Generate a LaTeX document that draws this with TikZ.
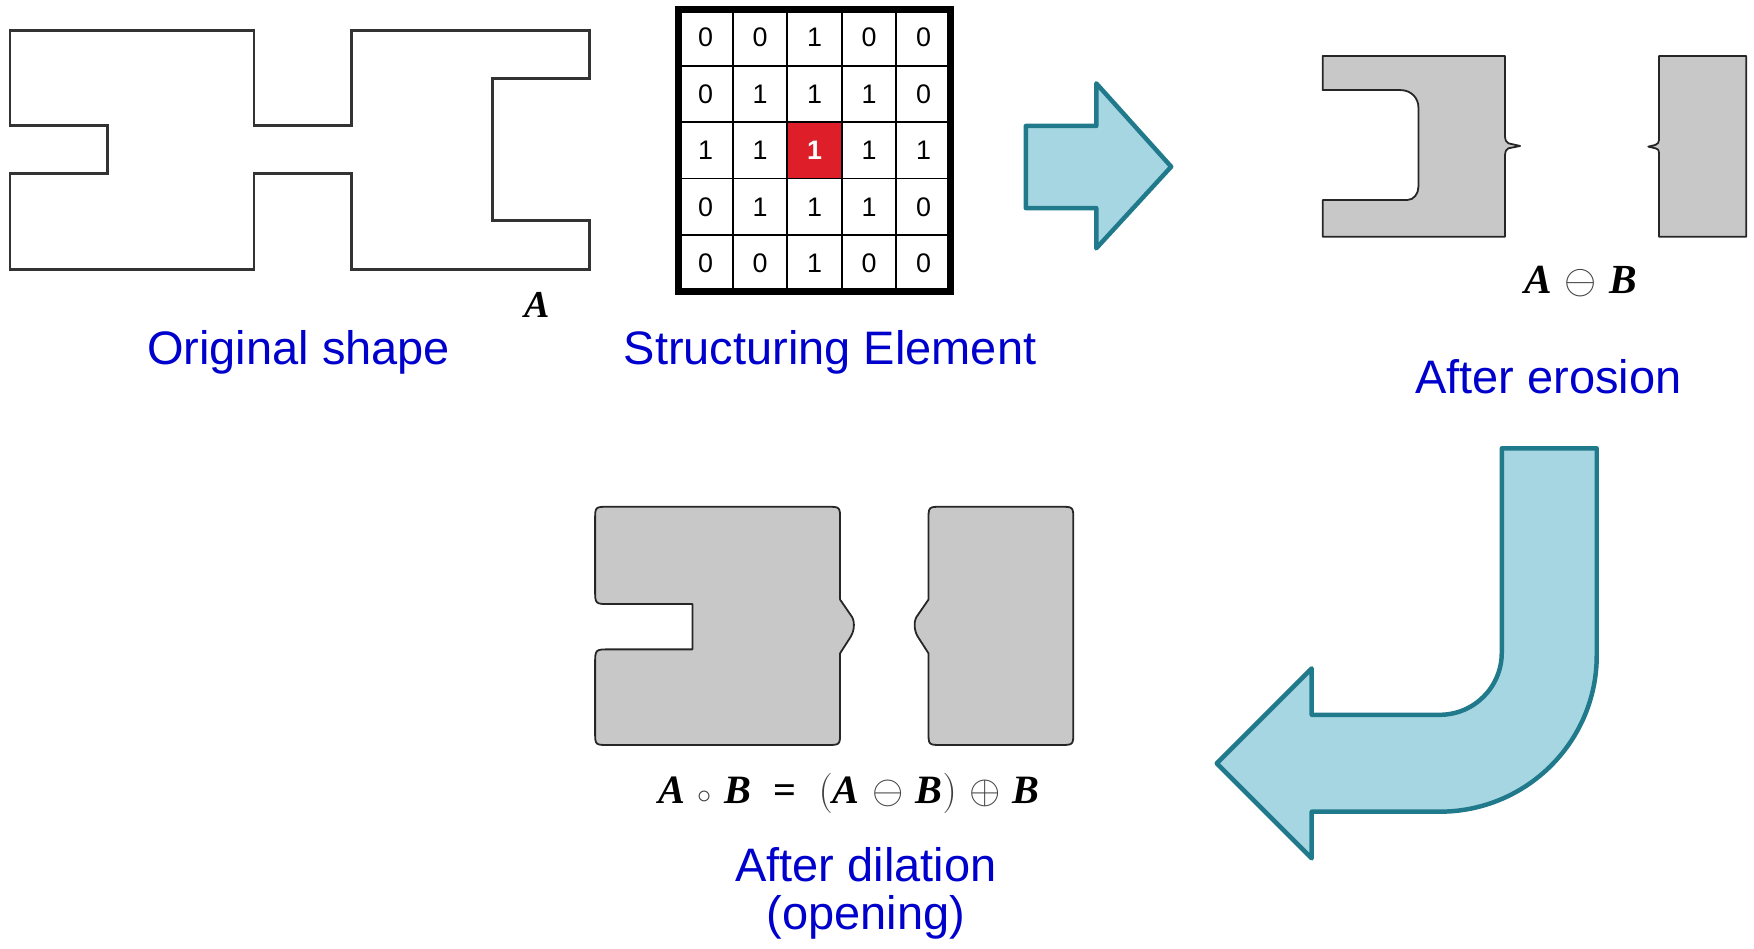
\RequirePackage{fix-cm}
\documentclass[tikz,border=0pt]{standalone}
\usepackage{fontspec}
\setmainfont{Liberation Sans}
\newfontfamily\timesfam{Liberation Serif}
\definecolor{labelblue}{RGB}{0,0,205}
\definecolor{shapegray}{RGB}{200,200,200}
\definecolor{arrowfill}{RGB}{166,214,226}
\definecolor{arrowline}{RGB}{33,122,140}
\definecolor{cellred}{RGB}{222,30,40}
\newcommand{\thinsym}[1]{{\normalfont\mdseries\color{black!75}$#1$}}
\newcommand{\sgap}{\hspace{11pt}}
\newcommand{\lgap}{\hspace{20pt}}
\begin{document}
\begin{tikzpicture}[x=1pt,y=-1pt,
  caption/.style={text=labelblue,font=\fontsize{42}{46}\selectfont,inner sep=0pt,anchor=base},
  setname/.style={font=\timesfam\bfseries\itshape\fontsize{#1}{#1}\selectfont,inner sep=0pt,anchor=base},
  outline/.style={draw=black!80,line width=2.4,line join=miter},
  grayshape/.style={draw=black!85,fill=shapegray,line width=1.6,line join=round},
  blockarrow/.style={draw=arrowline,fill=arrowfill,line width=4,line join=round},
  digit/.style={font=\fontsize{24}{26}\selectfont,inner sep=0pt}]
\useasboundingbox (0,0) rectangle (1568,848);

% original set A
\draw[outline] (9,27) -- (227,27) -- (227,112) -- (314,112) -- (314,27) -- (527,27)
  -- (527,70) -- (440,70) -- (440,197) -- (527,197) -- (527,241) -- (314,241)
  -- (314,155) -- (227,155) -- (227,241) -- (9,241) -- (9,155) -- (96,155)
  -- (96,112) -- (9,112) -- cycle;
\node[setname=34] (setA) at (480,284) {A};
\node[caption] (origcap) at (267,326) {Original shape};

% structuring element: 5x5 grid
\fill[cellred] (703.8,109.3) rectangle (752.5,159.7);
\foreach \xx in {655.1,703.8,752.5,801.2}
  \draw[line width=1.5] (\xx,8.5) -- (\xx,260.5);
\foreach \yy in {58.9,109.3,159.7,210.1}
  \draw[line width=1.5] (606.4,\yy) -- (849.9,\yy);
\draw[line width=6.5] (606.4,8.5) rectangle (849.9,260.5);
\foreach \row [count=\r from 0] in {{0,0,1,0,0},{0,1,1,1,0},{1,1,1,1,1},{0,1,1,1,0},{0,0,1,0,0}}
  \foreach \v [count=\c from 0] in \row
    \node[digit] (cell-\r-\c) at (630.75+48.7*\c,33.7+50.4*\r) {\v};
\node[digit,text=white,font=\bfseries\fontsize{24}{26}\selectfont,fill=cellred] (cell-center) at (728.15,134.5) {1};
\node[caption] (secap) at (742,326) {Structuring Element};

% straight block arrow
\draw[blockarrow] (917,112.6) -- (980,112.6) -- (980,74.5) -- (1047,149)
  -- (980,222) -- (980,186) -- (917,186) -- cycle;

% eroded set
\draw[grayshape] (1182.4,50) -- (1345.4,50) -- (1345.4,122.2)
  .. controls (1346,126) .. (1348.4,128.1) -- (1358.9,130.5) -- (1348.4,132.6)
  .. controls (1346,134.5) .. (1345.4,138.6)
  -- (1345.4,211.6) -- (1182.4,211.6) -- (1182.4,178.8) -- (1258,178.8)
  .. controls (1264,178.8) and (1268,173) .. (1268,167) -- (1268,96)
  .. controls (1268,88) and (1262,80.5) .. (1251.6,80.5) -- (1182.4,80.5) -- cycle;
\draw[grayshape] (1483.1,50) -- (1561,50) -- (1561,211.6) -- (1483.1,211.6)
  -- (1483.1,137) .. controls (1482.5,133.5) .. (1480,132.6) -- (1473.5,131.1)
  -- (1480,129.5) .. controls (1482.5,128) .. (1483.1,125) -- cycle;
\node[setname=37] (erosion) at (1413,262) {A\sgap\thinsym{\ominus}\sgap B};
\node[caption] (erocap) at (1384,351.5) {After erosion};

% bent block arrow
\draw[blockarrow] (1342.5,400.8) -- (1427.4,400.8) -- (1427.4,586)
  .. controls (1427.4,663.3) and (1364.3,725.6) .. (1287,725.6)
  -- (1172.6,725.6) -- (1172.6,767.3) -- (1087.7,682.4) -- (1172.6,597.5)
  -- (1172.6,639) -- (1287,639)
  .. controls (1317.7,639) and (1342.5,614.2) .. (1342.5,583.5) -- cycle;

% opened set
\draw[grayshape] (544,453) -- (739,453) .. controls (751,453) .. (751,465)
  -- (751,536) -- (760.5,549.8) .. controls (764.3,554) and (764.3,563) .. (760.5,569.2)
  -- (751,584) -- (751,654) .. controls (751,666) .. (739,666) -- (544,666)
  .. controls (532,666) .. (532,654) -- (532,594) .. controls (532,580.5) .. (545,580.5)
  -- (619,580.5) -- (619,540) -- (545,540) .. controls (532,540) .. (532,527)
  -- (532,465) .. controls (532,453) .. (544,453) -- cycle;
\draw[grayshape] (842,453) -- (947.5,453) .. controls (959.5,453) .. (959.5,465)
  -- (959.5,654) .. controls (959.5,666) .. (947.5,666) -- (842,666)
  .. controls (830,666) .. (830,654) -- (830,584) -- (820.5,569.2)
  .. controls (816.7,563) and (816.7,554) .. (820.5,549.8) -- (830,536)
  -- (830,465) .. controls (830,453) .. (842,453) -- cycle;
\node[setname=36] (opening) at (759,718) {A\sgap\thinsym{\scriptstyle\circ}\sgap B\lgap{\upshape=}\lgap\thinsym{(}A\sgap\thinsym{\ominus}\sgap B\thinsym{)}\sgap\thinsym{\oplus}\sgap B};
\node[caption] (dilcap) at (774,788) {After dilation};
\node[caption] (opencap) at (774,831) {(opening)};
\end{tikzpicture}
\end{document}
